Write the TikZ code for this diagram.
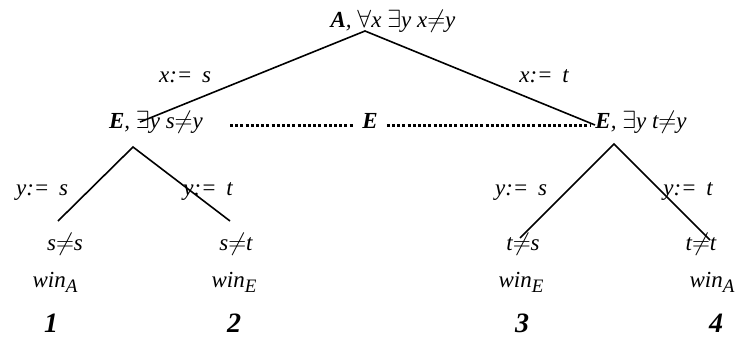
\documentclass[tikz,border=0pt]{standalone}
\usepackage{fontspec}
\setmainfont{Liberation Serif}
\usetikzlibrary{positioning}

\tikzset{
  lbl/.style={font=\itshape\fontsize{23}{25}\selectfont, inner sep=1pt, anchor=base},
  player/.style={font=\bfseries\itshape\fontsize{23}{25}\selectfont, inner sep=1pt, anchor=base},
  move/.style={line width=1.6pt},
  info/.style={line width=3pt, dash pattern=on 3pt off 2.2pt},
  num/.style={font=\bfseries\itshape\fontsize{28}{30}\selectfont, inner sep=1pt, anchor=base}
}
\newcommand{\winner}[1]{win\raisebox{-5pt}{\fontsize{19}{21}\selectfont #1}}

\begin{document}
\begin{tikzpicture}[x=1pt,y=-1pt]
\useasboundingbox (0,0) rectangle (739,338);
% positions
\node[lbl] (root) at (393,27) {\textbf{A}, $\forall$x $\exists$y x$\neq$y};
\node[lbl] (eL) at (156,128) {\textbf{E}, $\exists$y s$\neq$y};
\node[lbl] (eR) at (641,128) {\textbf{E}, $\exists$y t$\neq$y};
\node[player, inner xsep=9pt] (ie) at (370,128) {E};
\coordinate (r) at (365,31);
\coordinate (rL) at (140,122);
\coordinate (rR) at (595,125);
\coordinate (aL) at (133,147);
\coordinate (aR) at (614,144);
\coordinate (l1) at (58,221);
\coordinate (l2) at (230,221);
\coordinate (l3) at (520,238);
\coordinate (l4) at (710,240);
\coordinate (d1) at (230,125);
\coordinate (d2) at (590,125);
% moves
\draw[move] (rL) -- (r) -- (rR);
\draw[move] (l1) -- (aL) -- (l2);
\draw[move] (l3) -- (aR) -- (l4);
\draw[info] (d1) -- (d1 -| ie.west);
\draw[info] (d2 -| ie.east) -- (d2);
% choices
\node[lbl] (cx1) at (185,82) {x:=\, s};
\node[lbl] (cx2) at (544,82) {x:=\, t};
\node[lbl] (cy1) at (42,195) {y:=\, s};
\node[lbl] (cy2) at (208,195) {y:=\, t};
\node[lbl] (cy3) at (521,195) {y:=\, s};
\node[lbl] (cy4) at (688,195) {y:=\, t};
% outcomes
\node[lbl] (o1) at (65,250) {s$\neq$s};
\node[lbl] (o2) at (236,250) {s$\neq$t};
\node[lbl] (o3) at (523,250) {t$\neq$s};
\node[lbl] (o4) at (701,250) {t$\neq$t};
\node[lbl] (w1) at (55,287) {\winner{A}};
\node[lbl] (w2) at (234,287) {\winner{E}};
\node[lbl] (w3) at (521,287) {\winner{E}};
\node[lbl] (w4) at (712,287) {\winner{A}};
\node[num] (n1) at (51,332) {1};
\node[num] (n2) at (234,332) {2};
\node[num] (n3) at (522,332) {3};
\node[num] (n4) at (716,332) {4};
\end{tikzpicture}
\end{document}
